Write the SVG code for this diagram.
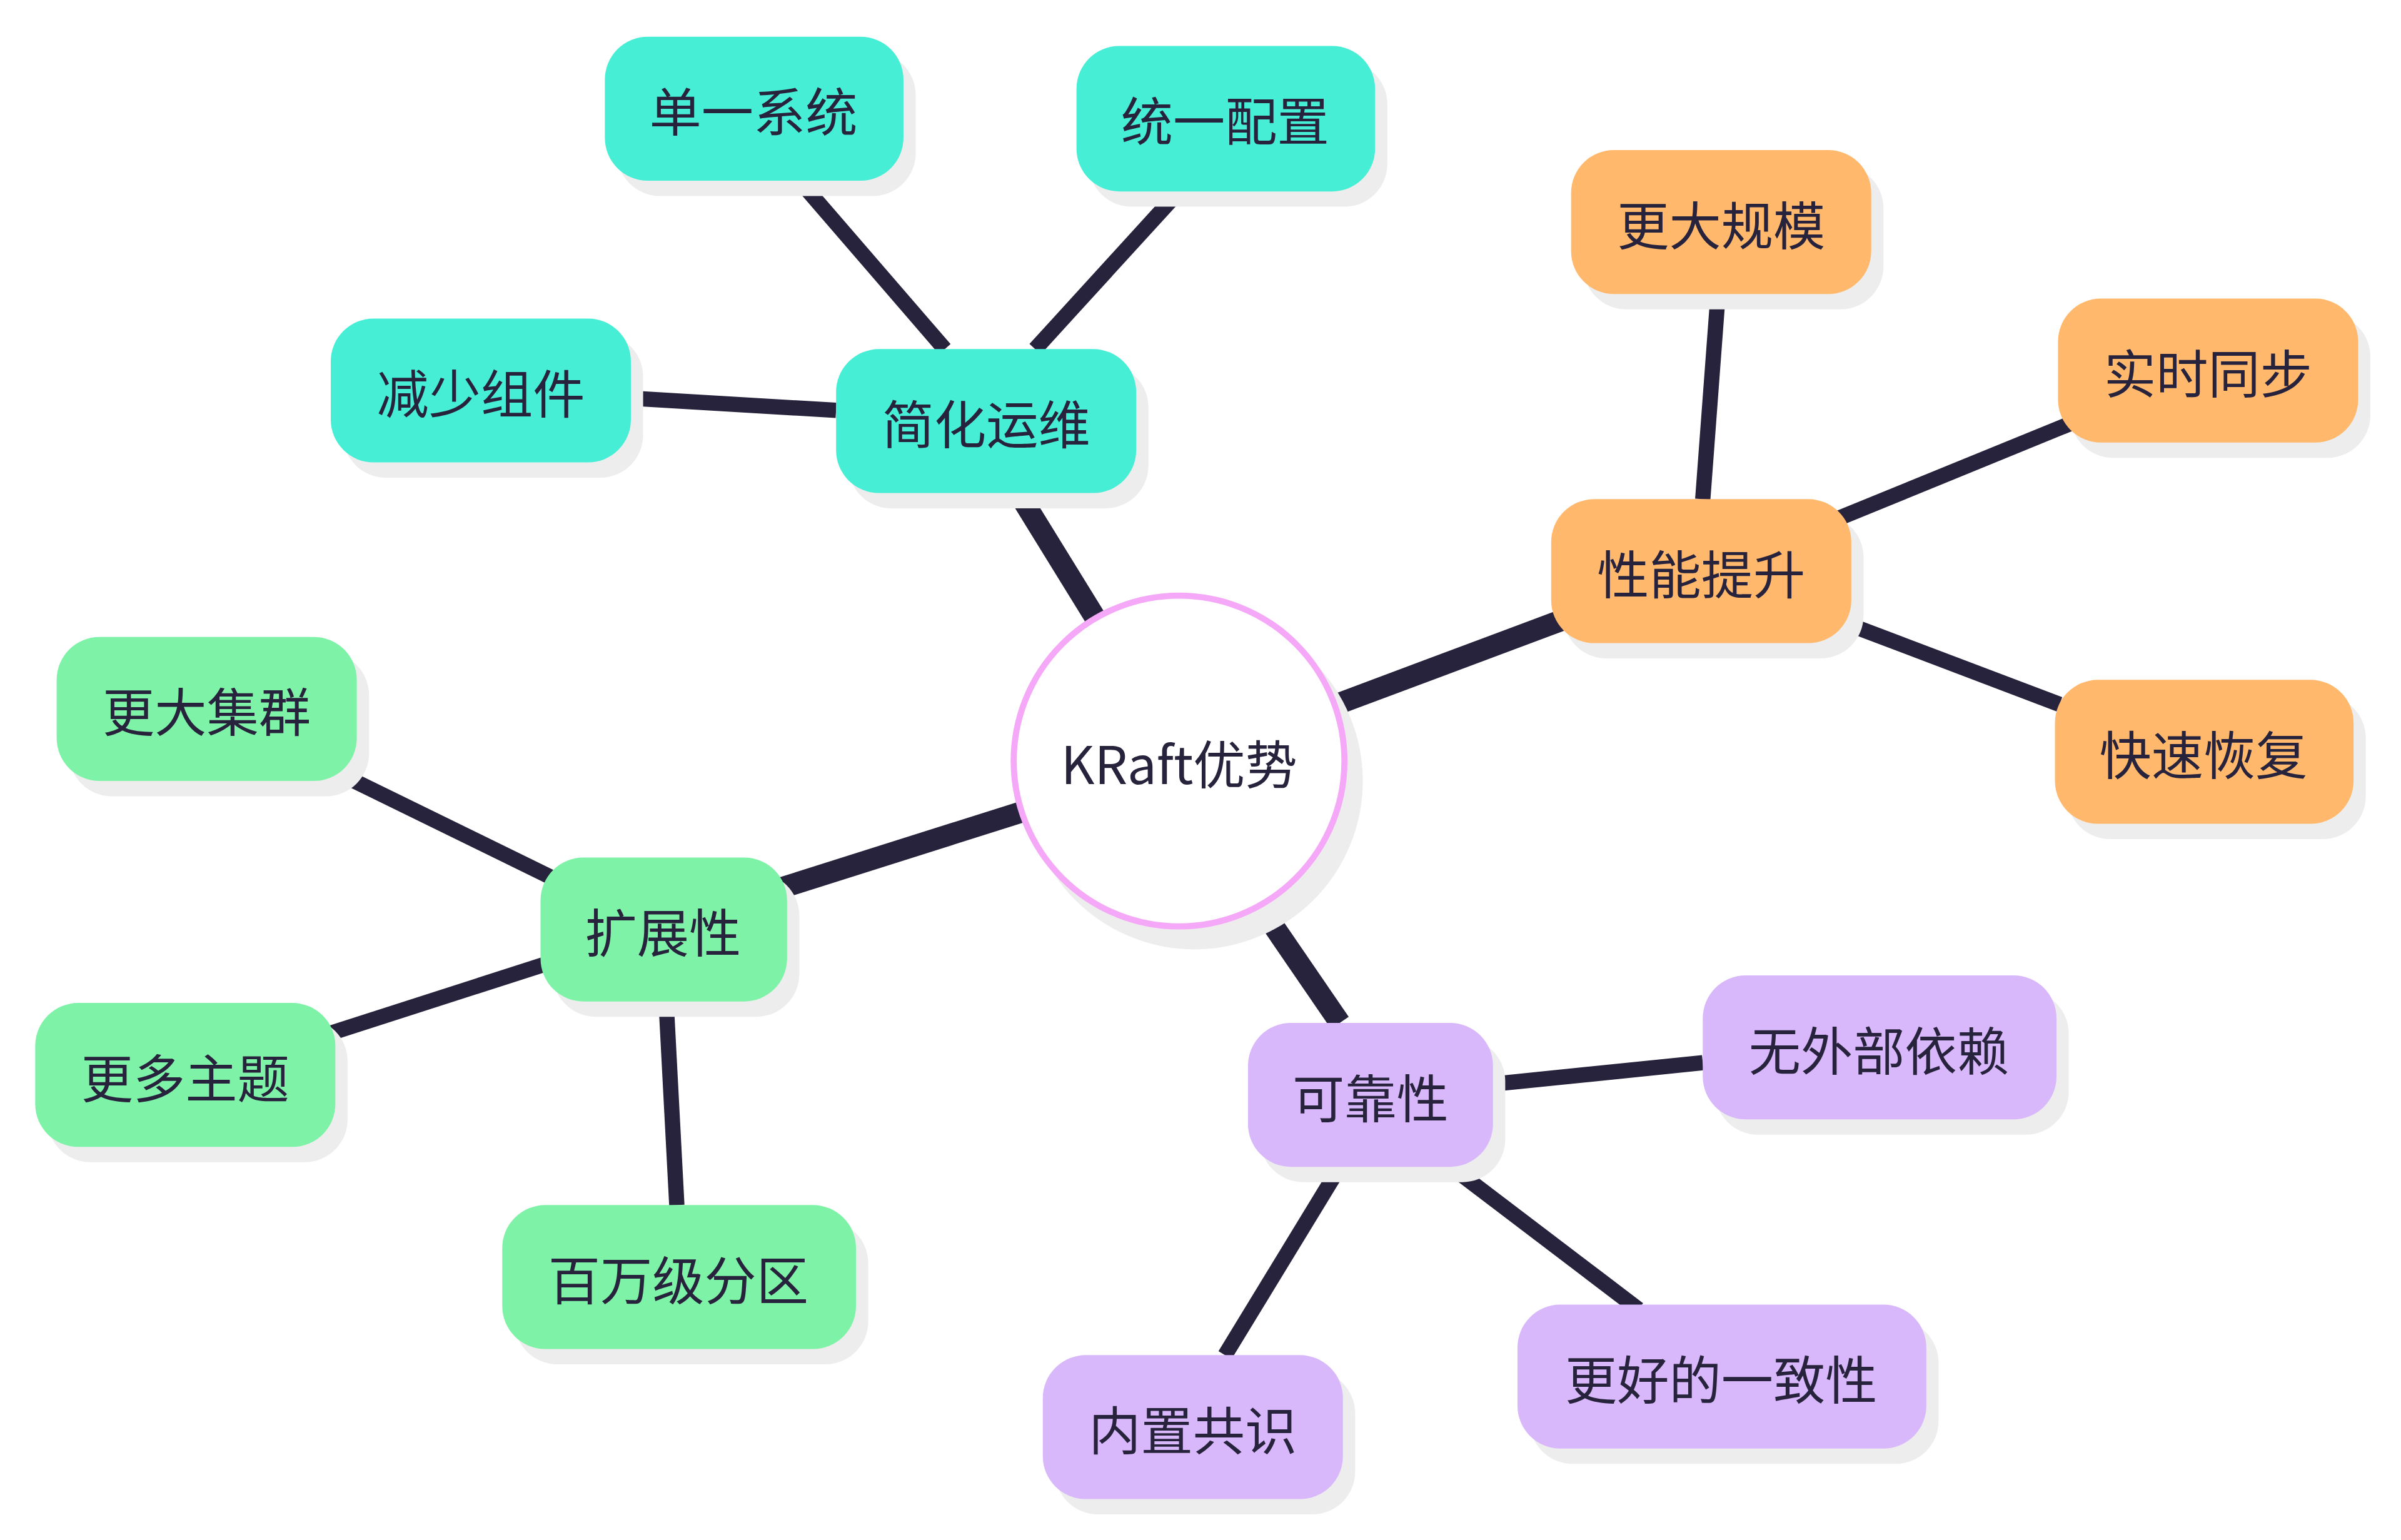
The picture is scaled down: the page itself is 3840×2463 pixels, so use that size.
<svg xmlns="http://www.w3.org/2000/svg" width="3840" height="2463" viewBox="0 0 3840 2463">
<style>
.sh{fill:#ededed}
.t{font-family:"Noto Sans CJK SC","Noto Sans",sans-serif;font-size:34px;fill:#28233c;text-anchor:middle;dominant-baseline:central}
.teal{fill:#47eed6}.or{fill:#ffb86c}.gr{fill:#7ef2a6}.pu{fill:#d8b8fb}
.e1{stroke:#28233c;stroke-width:14}.e2{stroke:#28233c;stroke-width:10}
</style>
<rect width="3840" height="2463" fill="#fff"/>
<g transform="scale(2.449)">
<g id="connectors" fill="none">
<line class="e1" x1="715" y1="403" x2="665" y2="322"/>
<line class="e1" x1="873" y1="460" x2="1020" y2="405"/>
<line class="e1" x1="668" y1="530" x2="510" y2="580"/>
<line class="e1" x1="825" y1="595" x2="875" y2="668"/>
<line class="e2" x1="617" y1="228" x2="522" y2="118"/>
<line class="e2" x1="676" y1="228" x2="770" y2="125"/>
<line class="e2" x1="546" y1="268" x2="412" y2="260"/>
<line class="e2" x1="1112" y1="326" x2="1122" y2="192"/>
<line class="e2" x1="1197" y1="340" x2="1356" y2="275"/>
<line class="e2" x1="1200" y1="405" x2="1345" y2="460"/>
<line class="e2" x1="360" y1="573" x2="215" y2="502"/>
<line class="e2" x1="355" y1="630" x2="215" y2="675"/>
<line class="e2" x1="435" y1="654" x2="442" y2="787"/>
<line class="e2" x1="975" y1="708" x2="1112" y2="694"/>
<line class="e2" x1="945" y1="760" x2="1070" y2="855"/>
<line class="e2" x1="875" y1="762" x2="800" y2="885"/>
</g>
<g id="root"><circle class="sh" cx="780" cy="510" r="110"/><circle cx="770" cy="497" r="108" fill="#fff" stroke="#f4a8f7" stroke-width="4"/><text class="t" x="770" y="497">KRaft优势</text></g>
<g id="n1"><rect class="sh" x="554" y="238" width="196" height="94" rx="28"/><rect class="teal" x="546" y="228" width="196" height="94" rx="28"/><text class="t" x="644" y="275">简化运维</text></g>
<g id="n2"><rect class="sh" x="403" y="34" width="195" height="94" rx="28"/><rect class="teal" x="395" y="24" width="195" height="94" rx="28"/><text class="t" x="492" y="71">单一系统</text></g>
<g id="n3"><rect class="sh" x="711" y="40" width="195" height="95" rx="28"/><rect class="teal" x="703" y="30" width="195" height="95" rx="28"/><text class="t" x="800" y="77">统一配置</text></g>
<g id="n4"><rect class="sh" x="224" y="218" width="196" height="94" rx="28"/><rect class="teal" x="216" y="208" width="196" height="94" rx="28"/><text class="t" x="314" y="255">减少组件</text></g>
<g id="n5"><rect class="sh" x="1021" y="336" width="196" height="94" rx="28"/><rect class="or" x="1013" y="326" width="196" height="94" rx="28"/><text class="t" x="1111" y="373">性能提升</text></g>
<g id="n6"><rect class="sh" x="1034" y="108" width="196" height="94" rx="28"/><rect class="or" x="1026" y="98" width="196" height="94" rx="28"/><text class="t" x="1124" y="145">更大规模</text></g>
<g id="n7"><rect class="sh" x="1352" y="205" width="196" height="94" rx="28"/><rect class="or" x="1344" y="195" width="196" height="94" rx="28"/><text class="t" x="1442" y="242">实时同步</text></g>
<g id="n8"><rect class="sh" x="1350" y="454" width="195" height="94" rx="28"/><rect class="or" x="1342" y="444" width="195" height="94" rx="28"/><text class="t" x="1439" y="491">快速恢复</text></g>
<g id="n9"><rect class="sh" x="361" y="570" width="161" height="94" rx="28"/><rect class="gr" x="353" y="560" width="161" height="94" rx="28"/><text class="t" x="433" y="607">扩展性</text></g>
<g id="n10"><rect class="sh" x="45" y="426" width="196" height="94" rx="28"/><rect class="gr" x="37" y="416" width="196" height="94" rx="28"/><text class="t" x="135" y="463">更大集群</text></g>
<g id="n11"><rect class="sh" x="31" y="665" width="196" height="94" rx="28"/><rect class="gr" x="23" y="655" width="196" height="94" rx="28"/><text class="t" x="121" y="702">更多主题</text></g>
<g id="n12"><rect class="sh" x="336" y="797" width="231" height="94" rx="28"/><rect class="gr" x="328" y="787" width="231" height="94" rx="28"/><text class="t" x="443" y="834">百万级分区</text></g>
<g id="n13"><rect class="sh" x="823" y="678" width="160" height="94" rx="28"/><rect class="pu" x="815" y="668" width="160" height="94" rx="28"/><text class="t" x="895" y="715">可靠性</text></g>
<g id="n14"><rect class="sh" x="1120" y="647" width="231" height="94" rx="28"/><rect class="pu" x="1112" y="637" width="231" height="94" rx="28"/><text class="t" x="1227" y="684">无外部依赖</text></g>
<g id="n15"><rect class="sh" x="999" y="862" width="267" height="94" rx="28"/><rect class="pu" x="991" y="852" width="267" height="94" rx="28"/><text class="t" x="1124" y="899">更好的一致性</text></g>
<g id="n16"><rect class="sh" x="689" y="895" width="196" height="94" rx="28"/><rect class="pu" x="681" y="885" width="196" height="94" rx="28"/><text class="t" x="779" y="932">内置共识</text></g>
</g>
</svg>
